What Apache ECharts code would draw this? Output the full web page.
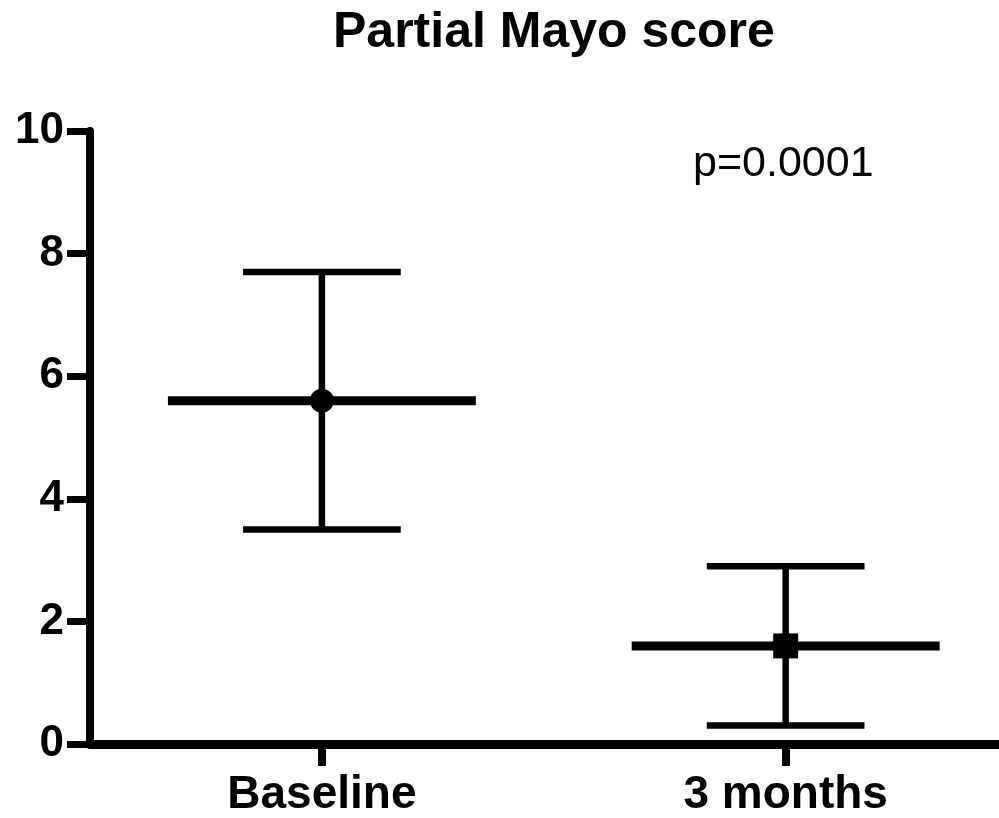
<!DOCTYPE html>
<html>
<head>
<meta charset="utf-8">
<script src="https://cdn.jsdelivr.net/npm/echarts@6/dist/echarts.min.js"></script>
<style>html,body{margin:0;padding:0;background:#fff;}#c{width:999px;height:818px;}</style>
</head>
<body>
<div id="c"></div>
<script>
var categories = ['Baseline', '3 months'];
var means = [5.6, 1.6];
var upper = [7.7, 2.9];
var lower = [3.5, 0.3];
var markerShapes = ['circle', 'rect'];
var yTicks = [0, 2, 4, 6, 8, 10];
var titleText = 'Partial Mayo score';
var pText = 'p=0.0001';

var FONT = '"Liberation Sans", Arial, Helvetica, sans-serif';
var chart = echarts.init(document.getElementById('c'));

var catIdx = categories.map(function (c, i) { return i; });
var errData = categories.map(function (c, i) { return [i, means[i], lower[i], upper[i]]; });

chart.setOption({
  animation: false,
  backgroundColor: '#fff',
  title: {
    text: titleText,
    left: 333, top: 8, padding: 0,
    textStyle: { fontFamily: FONT, fontWeight: 'bold', fontSize: 50, color: '#000' }
  },
  graphic: [{
    type: 'text', left: 693, top: 143,
    style: { text: pText, fontFamily: FONT, fontSize: 43, fill: '#000' }
  }],
  grid: { left: 90, right: 0, top: 131, bottom: 73 },
  xAxis: {
    type: 'value', min: -0.5, max: 1.46,
    axisLine: { lineStyle: { color: '#000', width: 9 } },
    axisTick: { show: true, customValues: catIdx, length: 22, lineStyle: { color: '#000', width: 8 } },
    axisLabel: {
      customValues: catIdx, margin: 28, color: '#000', fontFamily: FONT, fontWeight: 'bold', fontSize: 46,
      formatter: function (v) { return categories[Math.round(v)] || ''; }
    },
    splitLine: { show: false }
  },
  yAxis: {
    type: 'value', min: 0, max: 10, interval: 2,
    axisLine: { show: true, onZero: false, lineStyle: { color: '#000', width: 8 } },
    axisTick: { show: true, length: 23, lineStyle: { color: '#000', width: 7 } },
    axisLabel: {
      margin: 26, color: '#000', fontFamily: FONT, fontWeight: 'bold', fontSize: 44,
      formatter: function (v) { return yTicks.indexOf(v) >= 0 ? String(v) : ''; }
    },
    splitLine: { show: false }
  },
  series: [{
    type: 'custom',
    data: errData,
    renderItem: function (params, api) {
      var x = api.value(0);
      var pm = api.coord([x, api.value(1)]);
      var pl = api.coord([x, api.value(2)]);
      var pu = api.coord([x, api.value(3)]);
      var bw = api.size([1, 0])[0];
      var mh = bw * 0.332, ch = bw * 0.17;
      var st = { stroke: '#000', lineWidth: 6.5 };
      return {
        type: 'group',
        children: [
          { type: 'line', shape: { x1: pm[0], y1: pu[1], x2: pm[0], y2: pl[1] }, style: st },
          { type: 'line', shape: { x1: pm[0] - ch, y1: pu[1], x2: pm[0] + ch, y2: pu[1] }, style: st },
          { type: 'line', shape: { x1: pm[0] - ch, y1: pl[1], x2: pm[0] + ch, y2: pl[1] }, style: st },
          { type: 'line', shape: { x1: pm[0] - mh, y1: pm[1], x2: pm[0] + mh, y2: pm[1] }, style: { stroke: '#000', lineWidth: 9 } }
        ]
      };
    },
    z: 2
  }, {
    type: 'scatter',
    data: categories.map(function (c, i) {
      return { value: [i, means[i]], symbol: markerShapes[i], symbolSize: markerShapes[i] === 'rect' ? 25 : 24 };
    }),
    itemStyle: { color: '#000', opacity: 1 },
    z: 3
  }]
});
</script>
</body>
</html>
